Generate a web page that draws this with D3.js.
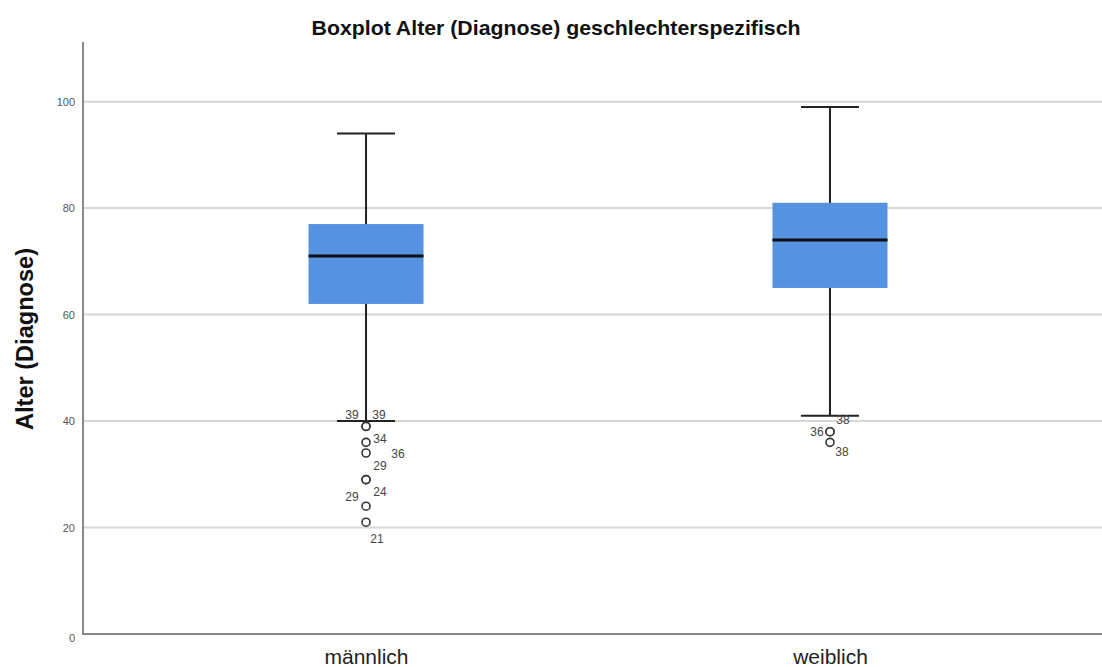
<!DOCTYPE html>
<html><head><meta charset="utf-8">
<script src="https://cdn.jsdelivr.net/npm/d3@7"></script>
<style>
body{margin:0;background:#fff;}
text{font-family:"Liberation Sans",Arial,Helvetica,sans-serif;}
</style></head>
<body><svg id="chart" width="1102" height="667"></svg>
<script>
// ---- data ----
const categories = ["männlich", "weiblich"];
const q1 = [62, 65];
const median = [71, 74];
const q3 = [77, 81];
const whiskerLow = [40, 41];
const whiskerHigh = [94, 99];
const outliersMale = [39, 39, 36, 34, 29, 29, 24, 21];
const outliersFemale = [38, 38, 36];
const outlierLabelsMale = ["39", "39", "36", "34", "29", "29", "24", "21"];
const outlierLabelsFemale = ["38", "38", "36"];
const yTicks = [0, 20, 40, 60, 80, 100];

// ---- layout (label offsets in px, relative to each circle) ----
const labelOffsetsMale = [[-14,-12],[13,-12],[32,11],[14,-14],[14,-14],[-14,17],[14,-14],[11,17]];
const labelOffsetsFemale = [[13,-12],[12,20],[-13,-11]];

const svg = d3.select("#chart");
const mLeft = 83, mRight = 1102, mTop = 42, mBottom = 634;

const y = d3.scaleLinear().domain([0, 111.2]).range([mBottom, mTop]);
const x = d3.scalePoint().domain(categories).range([mLeft, 1113]).padding(0.61);
const boxW = 115, capW = 58;

// gridlines
svg.append("g").selectAll("line").data(yTicks.filter(d => d > 0)).join("line")
  .attr("x1", mLeft).attr("x2", mRight)
  .attr("y1", d => y(d)).attr("y2", d => y(d))
  .attr("stroke", "#d6d6d6").attr("stroke-width", 2);

// y axis
const yAxis = svg.append("g").attr("transform", `translate(${mLeft},0)`)
  .style("color", "#555")
  .call(d3.axisLeft(y).tickValues(yTicks).tickSize(0).tickPadding(8));
yAxis.select(".domain").remove();
yAxis.selectAll("text").attr("font-size", 11).attr("fill", "#555")
  .attr("font-family", '"Liberation Sans",Arial,sans-serif')
  .attr("dy", (d) => d === 0 ? "0.7em" : "0.32em");

// x axis
const xAxis = svg.append("g").attr("transform", `translate(0,${mBottom})`)
  .style("color", "#222")
  .call(d3.axisBottom(x).tickSize(0).tickPadding(0));
xAxis.select(".domain").remove();
xAxis.selectAll("text").attr("font-size", 21).attr("fill", "#222")
  .attr("font-family", '"Liberation Sans",Arial,sans-serif')
  .attr("dy", 0).attr("y", 30);

// axis lines
svg.append("line").attr("x1", mLeft).attr("x2", mLeft).attr("y1", mTop).attr("y2", mBottom + 1)
  .attr("stroke", "#8a8a8a").attr("stroke-width", 2);
svg.append("line").attr("x1", mLeft - 1).attr("x2", mRight).attr("y1", mBottom).attr("y2", mBottom)
  .attr("stroke", "#8a8a8a").attr("stroke-width", 2);

// boxes
const data = categories.map((c, i) => ({c, q1: q1[i], med: median[i], q3: q3[i], lo: whiskerLow[i], hi: whiskerHigh[i]}));
const g = svg.append("g").selectAll("g").data(data).join("g");
g.append("line").attr("x1", d => x(d.c)).attr("x2", d => x(d.c))
  .attr("y1", d => y(d.hi)).attr("y2", d => y(d.lo))
  .attr("stroke", "#222").attr("stroke-width", 2);
["hi", "lo"].forEach(k => {
  g.append("line").attr("x1", d => x(d.c) - capW/2).attr("x2", d => x(d.c) + capW/2)
    .attr("y1", d => y(d[k])).attr("y2", d => y(d[k]))
    .attr("stroke", "#222").attr("stroke-width", 2);
});
g.append("rect").attr("x", d => x(d.c) - boxW/2).attr("width", boxW)
  .attr("y", d => y(d.q3)).attr("height", d => y(d.q1) - y(d.q3))
  .attr("fill", "#5592e2");
g.append("line").attr("x1", d => x(d.c) - boxW/2).attr("x2", d => x(d.c) + boxW/2)
  .attr("y1", d => y(d.med)).attr("y2", d => y(d.med))
  .attr("stroke", "#111").attr("stroke-width", 3);

// outliers
function drawOutliers(cat, vals, labels, offs) {
  const og = svg.append("g");
  og.selectAll("circle").data(vals).join("circle")
    .attr("cx", x(cat)).attr("cy", d => y(d)).attr("r", 4)
    .attr("fill", "#fff").attr("stroke", "#333").attr("stroke-width", 1.6);
  og.selectAll("text").data(vals).join("text")
    .attr("x", (d, i) => x(cat) + offs[i][0]).attr("y", (d, i) => y(d) + offs[i][1])
    .attr("text-anchor", "middle").attr("dy", "0.35em")
    .attr("font-size", 12).attr("fill", "#444")
    .text((d, i) => labels[i]);
}
drawOutliers("männlich", outliersMale, outlierLabelsMale, labelOffsetsMale);
drawOutliers("weiblich", outliersFemale, outlierLabelsFemale, labelOffsetsFemale);

// title
svg.append("text").attr("x", 556).attr("y", 35).attr("text-anchor", "middle")
  .attr("font-size", 21).attr("font-weight", "bold").attr("fill", "#111")
  .attr("textLength", 489).attr("lengthAdjust", "spacingAndGlyphs")
  .text("Boxplot Alter (Diagnose) geschlechterspezifisch");

// y label
svg.append("text").attr("transform", "translate(33,339) rotate(-90)")
  .attr("text-anchor", "middle").attr("font-size", 23).attr("font-weight", "bold").attr("fill", "#111")
  .attr("textLength", 182).attr("lengthAdjust", "spacingAndGlyphs")
  .text("Alter (Diagnose)");
</script></body></html>
